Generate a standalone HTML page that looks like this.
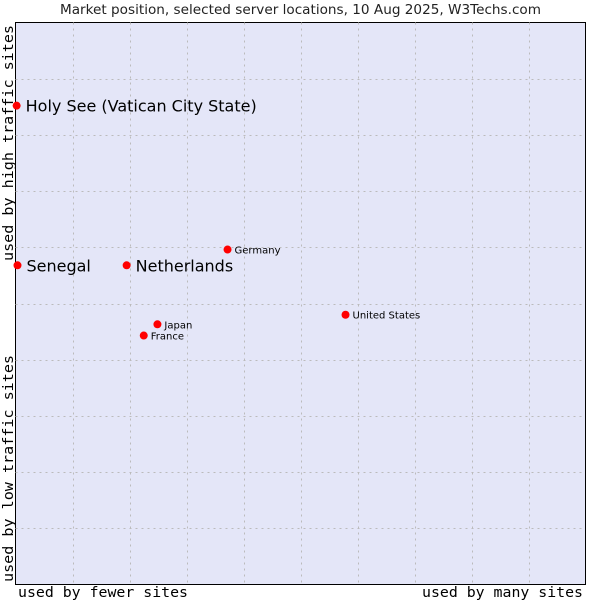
<!DOCTYPE html>
<html><head><meta charset="utf-8"><style>
body{margin:0;background:#fff;}
svg{display:block;font-family:"DejaVu Sans","Liberation Sans",sans-serif;}
.mono{font-family:"DejaVu Sans Mono","Liberation Mono",monospace;}
</style></head><body>
<svg id="c" width="600" height="600">
<text x="60" y="14" textLength="481" lengthAdjust="spacingAndGlyphs" font-size="13" fill="#222">Market position, selected server locations, 10 Aug 2025, W3Techs.com</text>
<rect x="15.5" y="22.5" width="570" height="562" fill="#e4e6f8" stroke="#000"/>
<g id="grid"></g>
<g id="pts"></g>
<text class="mono" x="18" y="597" font-size="14.5" textLength="170" lengthAdjust="spacingAndGlyphs">used by fewer sites</text>
<text class="mono" x="422" y="597" font-size="14.5" textLength="161" lengthAdjust="spacingAndGlyphs">used by many sites</text>
<text class="mono" transform="translate(13,582) rotate(-90)" font-size="14.5" textLength="227" lengthAdjust="spacingAndGlyphs">used by low traffic sites</text>
<text class="mono" transform="translate(13,261) rotate(-90)" font-size="14.5" textLength="236" lengthAdjust="spacingAndGlyphs">used by high traffic sites</text>
</svg>
<script>
const names=["Holy See (Vatican City State)","Senegal","Netherlands","Germany","United States","Japan","France"];
const xs=[0.2,0.35,19.5,37.2,57.9,24.9,22.5];
const ys=[85.2,56.8,56.8,59.6,48.0,46.3,44.3];
const big=[true,true,true,false,false,false,false];
const L=15.5,R=585.5,T=22.5,B=584.5;
const sx=v=>L+v/100*(R-L), sy=v=>B-v/100*(B-T);
const NS="http://www.w3.org/2000/svg";
const g=document.getElementById('grid'), p=document.getElementById('pts');
for(let i=1;i<10;i++){
 let l=document.createElementNS(NS,'line');
 
 
 const x=Math.round(sx(i*10))+0.5;
 l.setAttribute('x1',x);l.setAttribute('x2',x);l.setAttribute('y1',T);l.setAttribute('y2',B);
 l.setAttribute('stroke','#bbb');l.setAttribute('stroke-dasharray','2,4');g.appendChild(l);
 let h=document.createElementNS(NS,'line');
 
 
 const y=Math.round(sy(i*10))+0.5;
 h.setAttribute('x1',L);h.setAttribute('x2',R);h.setAttribute('y1',y);h.setAttribute('y2',y);
 h.setAttribute('stroke','#bbb');h.setAttribute('stroke-dasharray','2,4');g.appendChild(h);
}
names.forEach((n,i)=>{
 const x=sx(xs[i]),y=sy(ys[i]);
 let d=document.createElementNS(NS,'circle');
 
 
 d.setAttribute('cx',x);d.setAttribute('cy',y);d.setAttribute('r',4);
 d.setAttribute('fill','#f00');p.appendChild(d);
 let t=document.createElementNS(NS,'text');
 
 
 t.setAttribute('x',x+(big[i]?9:7));t.setAttribute('y',y+(big[i]?6:4));
 t.setAttribute('font-size',big[i]?'16':'10');t.setAttribute('fill','#000');
 t.textContent=n;p.appendChild(t);
});
</script>
</body></html>
